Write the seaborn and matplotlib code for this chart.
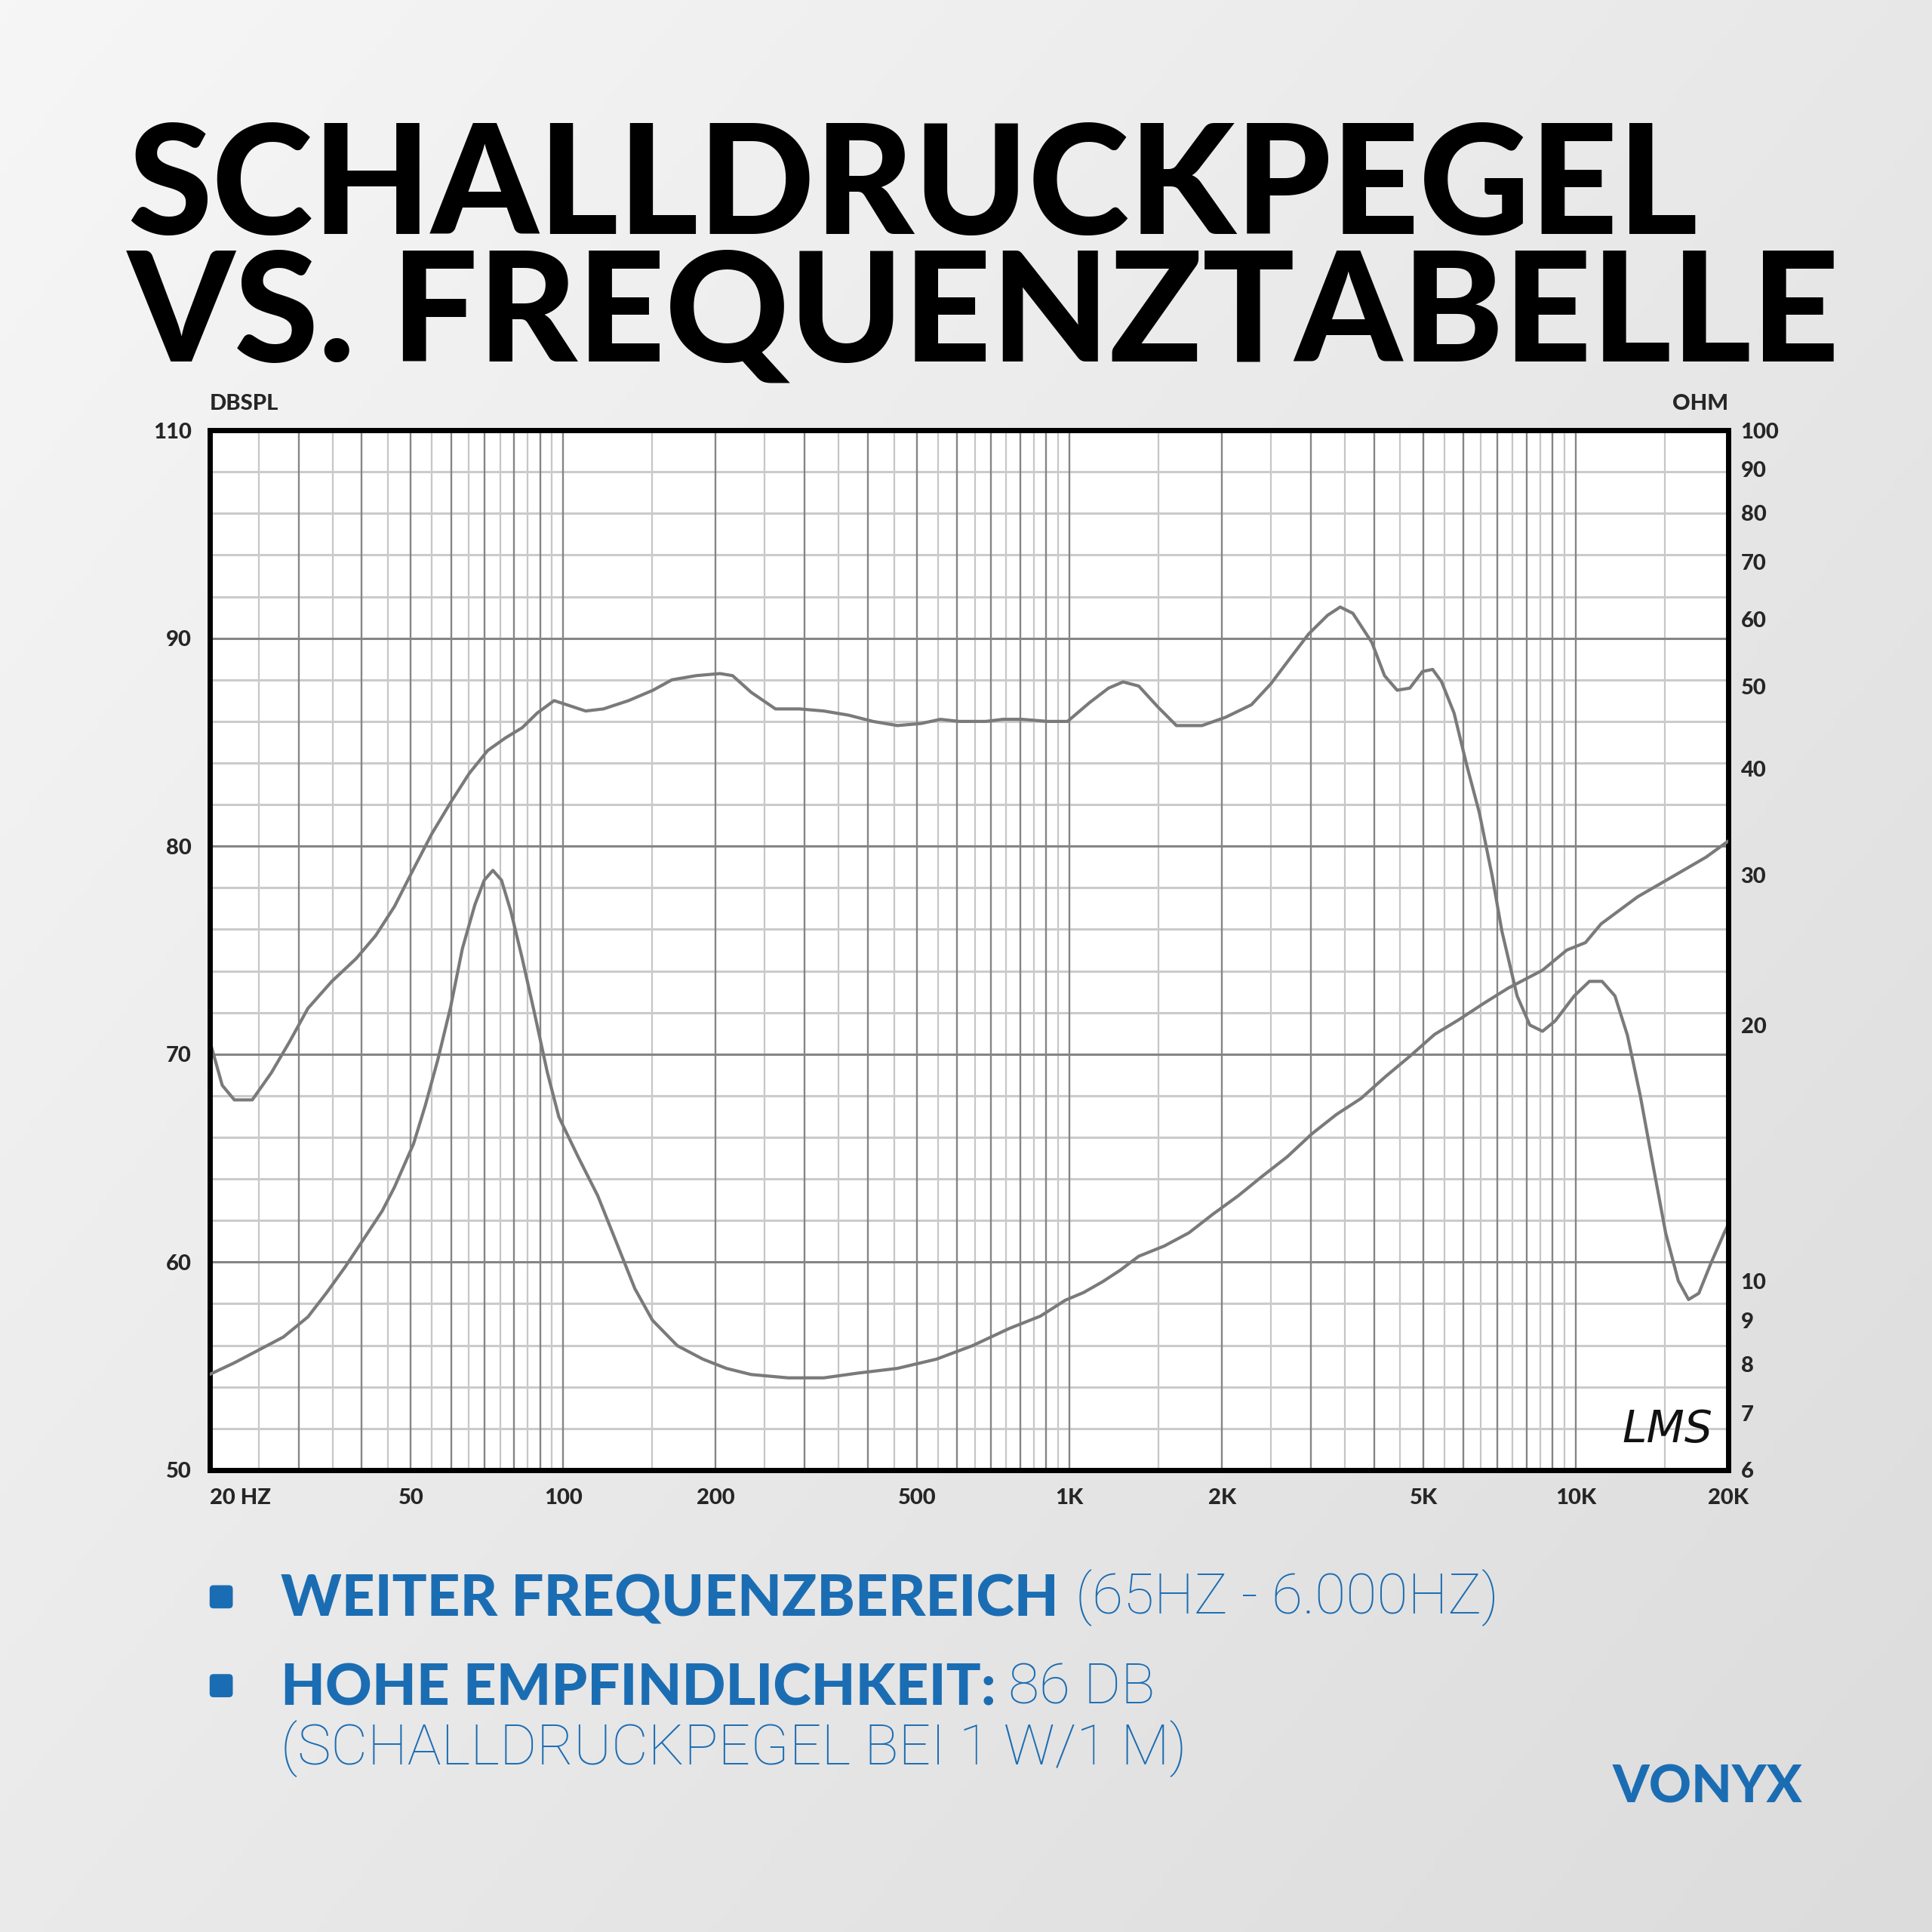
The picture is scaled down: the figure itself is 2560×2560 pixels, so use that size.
import numpy as np
import matplotlib
matplotlib.use('Agg')
import matplotlib.pyplot as plt
import seaborn as sns
from matplotlib.patches import FancyBboxPatch
from matplotlib.colors import LinearSegmentedColormap
from matplotlib.ticker import NullLocator

# Schalldruckpegel (Hz, dB)
spl_freq = [20, 21.2, 22.4, 24.3, 26.5, 28.8, 31.3, 34.9, 39, 42.6, 46.4, 50.6, 55, 59.9, 65.2,
            70.9, 76.8, 83, 88.8, 95.9, 101.6, 110.7, 120, 134.6, 150.4, 163.9, 182.9, 204, 216, 235,
            262.5, 293, 327, 366, 409, 457, 509, 556, 605, 683, 739, 805, 905, 991, 1095,
            1194, 1276, 1370, 1494, 1626, 1827, 2034, 2287, 2497, 2720, 2966, 3233, 3425, 3627, 3955,
            4190, 4437, 4700, 4980, 5215, 5432, 5749, 6089, 6450, 6833, 7148, 7658, 8114, 8595, 9108,
            9930, 10640, 11270, 11950, 12650, 13410, 14200, 15050, 15940, 16700, 17500, 18530, 19640, 20000]
spl_db = [70.7, 68.5, 67.8, 67.8, 69.1, 70.6, 72.2, 73.5, 74.6, 75.7, 77.1, 78.9, 80.6, 82.1, 83.5,
          84.6, 85.2, 85.7, 86.4, 87.0, 86.8, 86.5, 86.6, 87.0, 87.5, 88.0, 88.2, 88.3, 88.2, 87.4,
          86.6, 86.6, 86.5, 86.3, 86.0, 85.8, 85.9, 86.1, 86.0, 86.0, 86.1, 86.1, 86.0, 86.0, 86.9,
          87.6, 87.9, 87.7, 86.7, 85.8, 85.8, 86.2, 86.8, 87.8, 89.0, 90.2, 91.1, 91.5, 91.2, 89.8,
          88.2, 87.5, 87.6, 88.4, 88.5, 87.9, 86.4, 83.9, 81.6, 78.6, 75.9, 72.8, 71.4, 71.1, 71.6,
          72.8, 73.5, 73.5, 72.8, 70.9, 68.0, 64.7, 61.4, 59.1, 58.2, 58.5, 60.0, 61.4, 61.8]

# Impedanz (Hz, Ohm)
imp_freq = [20, 22.4, 25, 28, 31.3, 34.1, 37.1, 40.3, 43.9, 46.4, 50.6, 53.4, 56.5, 59.9, 63.2,
            66.9, 69.8, 72.6, 75.5, 78.8, 82.9, 87.5, 93, 98, 107, 117, 127.4, 138.5, 150, 168,
            188.7, 210, 235, 278, 327, 382, 457, 546, 643, 760, 876, 981, 1066, 1163, 1258,
            1370, 1538, 1721, 1923, 2153, 2408, 2690, 3010, 3365, 3765, 4210, 4710, 5260, 5880, 6570,
            7350, 8595, 9600, 10450, 11220, 13250, 15700, 18080, 20000]
imp_ohm = [7.77, 8.02, 8.3, 8.6, 9.08, 9.7, 10.4, 11.2, 12.1, 12.9, 14.5, 16.1, 18.2, 21.0, 24.6,
           27.7, 29.6, 30.4, 29.6, 27.2, 24.0, 20.8, 17.6, 15.6, 14.0, 12.6, 11.1, 9.8, 9.0, 8.4,
           8.1, 7.9, 7.77, 7.7, 7.7, 7.8, 7.9, 8.1, 8.4, 8.8, 9.1, 9.5, 9.7, 9.99, 10.3,
           10.7, 11.0, 11.4, 12.0, 12.6, 13.3, 14.0, 14.9, 15.7, 16.4, 17.4, 18.4, 19.5, 20.3, 21.2,
           22.1, 23.2, 24.5, 25.0, 26.3, 28.3, 30.0, 31.5, 32.9]

x_ticks = [20, 50, 100, 200, 500, 1000, 2000, 5000, 10000, 20000]
x_labels = ['20 HZ', '50', '100', '200', '500', '1K', '2K', '5K', '10K', '20K']
db_ticks = [50, 60, 70, 80, 90, 100]
db_labels = ['50', '60', '70', '80', '90', '110']
ohm_ticks = [6, 7, 8, 9, 10, 20, 30, 40, 50, 60, 70, 80, 90, 100]
ohm_labels = ['6', '7', '8', '9', '10', '20', '30', '40', '50', '60', '70', '80', '90', '100']

BLUE = '#1b6db3'
CURVE = '#7a7a7a'
LIGHT_FONT = ['Roboto', 'Lato', 'DejaVu Sans']

sns.set_theme(style='white')
plt.rcParams['font.family'] = ['Lato', 'DejaVu Sans']

fig = plt.figure(figsize=(25.6, 25.6), dpi=100)

# hintergrund
bg = fig.add_axes([0, 0, 1, 1], zorder=-5)
gx, gy = np.meshgrid(np.linspace(0, 1, 256), np.linspace(0, 1, 256))
bg.imshow(0.55 * gx + 0.45 * gy, extent=[0, 1, 0, 1], aspect='auto', origin='upper',
          cmap=LinearSegmentedColormap.from_list('bg', ['#f6f6f6', '#dcdcdc']))
bg.set_xlim(0, 1)
bg.set_ylim(0, 1)
bg.axis('off')

# titel
fig.text(0.066, 0.879, 'SCHALLDRUCKPEGEL', fontsize=146, fontweight='black', color='black')
fig.text(0.066, 0.813, 'VS. FREQUENZTABELLE', fontsize=146, fontweight='black', color='black')

ax = fig.add_axes([0.1084, 0.2391, 0.7861, 0.5382])
ax.set_facecolor('white')
ax.set_xscale('log')
ax.set_xlim(20, 20000)
ax.set_ylim(50, 100)

# raster
dark_x = [k * 10 ** d for d in (1, 2, 3) for k in range(1, 10) if 20 < k * 10 ** d] + [10000]
light_x = [(k + 0.5) * 10 ** d for d in (1, 2, 3, 4) for k in range(1, 10) if 20 < (k + 0.5) * 10 ** d < 20000]
for v in light_x:
    ax.axvline(v, color='#c6c6c6', lw=1.6, zorder=1)
for v in dark_x:
    ax.axvline(v, color='#858585', lw=1.7, zorder=1.2)
for v in range(52, 100, 2):
    if v % 10:
        ax.axhline(v, color='#cbcbcb', lw=2.2, zorder=1.1)
for v in range(60, 100, 10):
    ax.axhline(v, color='#858585', lw=2.2, zorder=1.2)

sns.lineplot(x=spl_freq, y=spl_db, ax=ax, color=CURVE, lw=3, estimator=None, sort=False, zorder=3)

ax.set_xticks(x_ticks, x_labels)
ax.xaxis.set_minor_locator(NullLocator())
ax.set_yticks(db_ticks, db_labels)
ax.tick_params(axis='x', length=0, pad=17, labelsize=21)
ax.tick_params(axis='y', length=0, pad=17, labelsize=21)
for lab in ax.get_xticklabels() + ax.get_yticklabels():
    lab.set_fontweight('black')
ax.get_xticklabels()[0].set_horizontalalignment('left')
ax.set_xlabel('')
ax.set_ylabel('')
for s in ax.spines.values():
    s.set_color('black')
    s.set_linewidth(5)
    s.set_zorder(5)

ax2 = ax.twinx()
ax2.set_yscale('log')
ax2.set_ylim(6, 100)
sns.lineplot(x=imp_freq, y=imp_ohm, ax=ax2, color=CURVE, lw=3, estimator=None, sort=False, zorder=3)
ax2.set_xlim(20, 20000)
ax2.set_yticks(ohm_ticks, ohm_labels)
ax2.yaxis.set_minor_locator(NullLocator())
ax2.tick_params(axis='y', length=0, pad=12, labelsize=21)
for lab in ax2.get_yticklabels():
    lab.set_fontweight('black')
ax2.set_ylabel('')
for s in ax2.spines.values():
    s.set_visible(False)

ax.text(0, 1.016, 'DBSPL', transform=ax.transAxes, ha='left', va='bottom',
        fontsize=21, fontweight='black')
ax.text(1, 1.016, 'OHM', transform=ax.transAxes, ha='right', va='bottom',
        fontsize=21, fontweight='black')
ax2.text(0.99, 0.018, 'LMS', transform=ax.transAxes, ha='right', va='bottom',
         fontsize=42, fontstyle='italic', family='DejaVu Sans', color='#111111', zorder=6)

# aufzählung
for yb in (0.1675, 0.1215):
    fig.patches.append(FancyBboxPatch((0.1085, yb), 0.012, 0.012, boxstyle='round,pad=0,rounding_size=0.002',
                                      transform=fig.transFigure, facecolor=BLUE, edgecolor='none'))

t1 = bg.text(0.1453, 0.1633, 'WEITER FREQUENZBEREICH', fontsize=55, fontweight='black',
             color=BLUE, va='baseline', transform=fig.transFigure)
bg.annotate('(65HZ - 6.000HZ)', xy=(1, 0), xycoords=t1, xytext=(16, 0), textcoords='offset points',
            va='bottom', ha='left', fontsize=54, fontweight='light', family=LIGHT_FONT, color=BLUE)
t2 = bg.text(0.1453, 0.1172, 'HOHE EMPFINDLICHKEIT:', fontsize=55, fontweight='black',
             color=BLUE, va='baseline', transform=fig.transFigure)
bg.annotate('86 DB', xy=(1, 0), xycoords=t2, xytext=(12, 0), textcoords='offset points',
            va='bottom', ha='left', fontsize=54, fontweight='light', family=LIGHT_FONT, color=BLUE)
bg.text(0.1453, 0.0867, '(SCHALLDRUCKPEGEL BEI 1 W/1 M)', fontsize=54, fontweight='light',
        family=LIGHT_FONT, color=BLUE, va='baseline', transform=fig.transFigure)

bg.text(0.933, 0.0668, 'VONYX', fontsize=50, fontweight='black', color=BLUE,
        ha='right', va='baseline', transform=fig.transFigure)

fig.savefig('out.png', dpi=100)
